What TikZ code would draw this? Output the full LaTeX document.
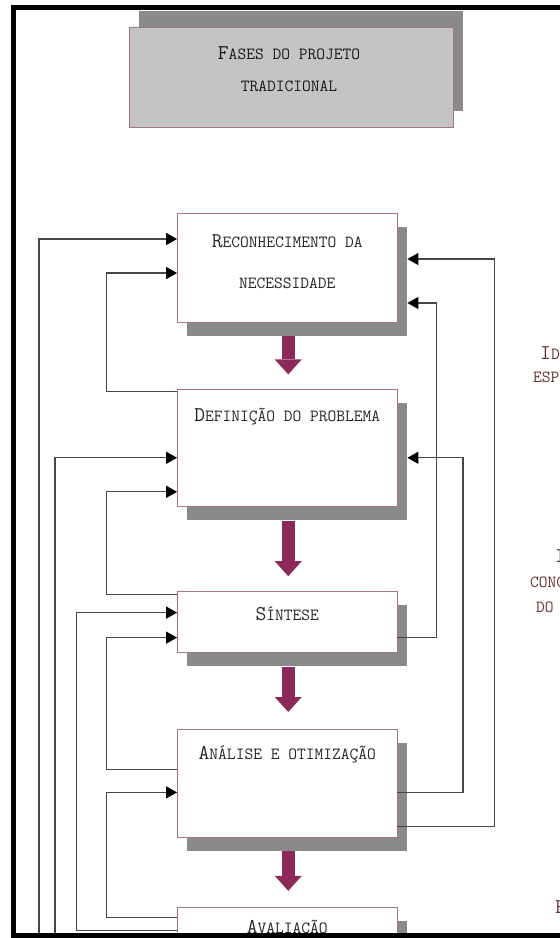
\documentclass[tikz,border=0pt]{standalone}
\usepackage{fontspec}
\usetikzlibrary{arrows.meta, positioning, shadows}

\definecolor{boxedge}{RGB}{165,115,140}
\definecolor{shadowgray}{RGB}{138,138,138}
\definecolor{titlefill}{RGB}{196,196,196}
\definecolor{flowpurple}{RGB}{140,40,90}
\definecolor{linegray}{RGB}{70,70,70}
\definecolor{sidetext}{RGB}{105,50,50}

\newcommand{\phasecaps}[2]{{\fontsize{21}{22}\selectfont #1}#2}

\begin{document}
\begin{tikzpicture}[
  x=1pt, y=-1pt,
  phase/.style={draw=boxedge, line width=0.8pt, fill=white, minimum width=219.5pt, inner sep=0pt,
    drop shadow={shadow xshift=9.5pt, shadow yshift=-13.5pt, fill=shadowgray, opacity=1}},
  titlestyle/.style={draw=boxedge, line width=0.8pt, fill=titlefill, minimum width=324pt, minimum height=100pt,
    drop shadow={shadow xshift=9.5pt, shadow yshift=16pt, fill=shadowgray, opacity=1}},
  phasetext/.style={font=\ttfamily\fontsize{17}{41}\selectfont, text=black!85, align=center, inner sep=0pt},
  flowarrow/.style={flowpurple, line width=13pt, -{Triangle[length=15pt, width=27pt, line width=0pt]}},
  feedback/.style={linegray, line width=1.2pt, -{Triangle[length=11pt, width=12pt, color=black]}},
  sidelabel/.style={font=\ttfamily\fontsize{17}{20}\selectfont, text=sidetext, anchor=west, inner sep=0pt}
]
\useasboundingbox (0,0) rectangle (560,938);
\clip (0,0) rectangle (560,938);

% title
\node[titlestyle] (titlebox) at (291,77) {};
\node[phasetext, font=\ttfamily\fontsize{17}{32}\selectfont, text=black!90] (titlebox-t)
  at ([xshift=-2pt, yshift=8pt]titlebox.center) {\phasecaps{F}{ASES DO PROJETO}\\TRADICIONAL};

% phases
\node[phase, minimum height=109pt] (reconh) at (287.25,267.5) {};
\node[phase, minimum height=117pt, below=67pt of reconh] (defin) {};
\node[phase, minimum height=61pt, below=84pt of defin] (synth) {};
\node[phase, minimum height=108pt, below=76pt of synth] (optim) {};
\node[phase, minimum height=110pt, below=69pt of optim] (evalu) {};

\node[phasetext] (reconh-t) at ([yshift=-49.5pt]reconh.north) {\phasecaps{R}{ECONHECIMENTO DA}\\NECESSIDADE};
\node[phasetext] (defin-t) at ([yshift=-27pt]defin.north) {\phasecaps{D}{EFINIÇÃO DO PROBLEMA}};
\node[phasetext] (synth-t) at ([yshift=-23pt]synth.north) {\phasecaps{S}{ÍNTESE}};
\node[phasetext] (optim-t) at ([yshift=-25pt]optim.north) {\phasecaps{A}{NÁLISE E OTIMIZAÇÃO}};
\node[phasetext] (evalu-t) at ([yshift=-22pt]evalu.north) {\phasecaps{A}{VALIAÇÃO}};

% main flow
\draw[flowarrow] ([xshift=1pt, yshift=-13.5pt]reconh.south) -- ([xshift=1pt, yshift=15pt]defin.north);
\draw[flowarrow] ([xshift=1pt, yshift=-13.5pt]defin.south) -- ([xshift=1pt, yshift=15pt]synth.north);
\draw[flowarrow] ([xshift=1pt, yshift=-13.5pt]synth.south) -- ([xshift=1pt, yshift=17pt]optim.north);
\draw[flowarrow] ([xshift=1pt, yshift=-13.5pt]optim.south) -- ([xshift=1pt, yshift=16pt]evalu.north);

% feedback on the left
\coordinate (chan1) at (39,960);
\coordinate (chan3) at (55,960);
\draw[feedback] (chan1) |- ([yshift=28.5pt]reconh.west);
\draw[feedback] ([yshift=56.5pt]defin.west) -- ++(-70.5,0) |- ([yshift=-5.5pt]reconh.west);
\draw[feedback] (chan3) |- ([yshift=-9.5pt]defin.west);
\draw[feedback] ([yshift=27.5pt]synth.west) -- ++(-70.5,0) |- ([yshift=-43.5pt]defin.west);
\draw[feedback] ([yshift=32pt]evalu.west) -- ++(-100.5,0) |- ([yshift=9.5pt]synth.west);
\draw[feedback] ([yshift=14pt]optim.west) -- ++(-70.5,0) |- ([yshift=-15.5pt]synth.west);
\draw[feedback] ([yshift=45pt]evalu.west) -- ++(-70.5,0) |- ([yshift=-9pt]optim.west);

% feedback on the right
\draw[feedback] ([yshift=-43pt]optim.east) -- ++(97,0) |- ([xshift=10pt, yshift=8.5pt]reconh.east);
\draw[feedback] ([yshift=-15.5pt]synth.east) -- ++(39,0) |- ([xshift=10pt, yshift=-35.5pt]reconh.east);
\draw[feedback] ([yshift=-9pt]optim.east) -- ++(65.5,0) |- ([xshift=10pt, yshift=-9.5pt]defin.east);

% labels cut by the right edge
\node[sidelabel] (idea) at (540,353) {\phasecaps{I}{DÉ}};
\node[sidelabel] (spec) at (533,377) {ESP};
\node[sidelabel] (concept-i) at (555,556) {\phasecaps{I}{}};
\node[sidelabel] (concept) at (530,582) {CONC};
\node[sidelabel] (concept-do) at (536,607) {DO};
\node[sidelabel] (final) at (555,907) {\phasecaps{F}{}};

% frame
\draw[line width=5pt] (13.5,7.5) rectangle (580,935.5);
\end{tikzpicture}
\end{document}
